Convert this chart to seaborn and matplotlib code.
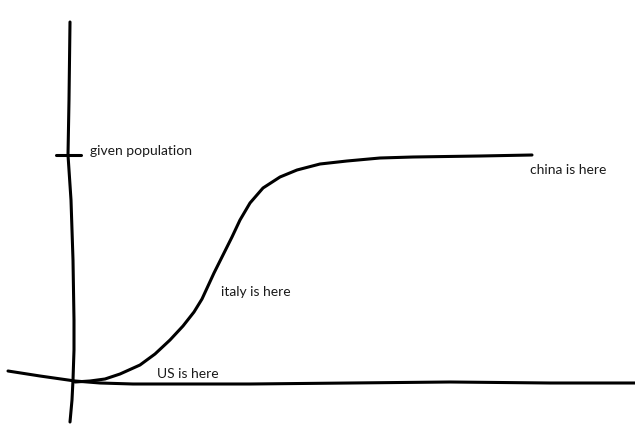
import seaborn as sns
import matplotlib.pyplot as plt

# hand-drawn sketch, values (x to the right, y upwards)
axis_x = [70, 69, 68, 71, 73, 74, 74, 73, 72, 70]
axis_y = [414, 336, 281, 236, 176, 116, 86, 56, 36, 14]

tick_x = [56, 81]
tick_y = [281, 281]

base_x = [8, 40, 75, 100, 133, 180, 250, 350, 450, 550, 635]
base_y = [65, 60, 55, 53, 52, 52, 52, 53, 54, 53, 53]

curve_x = [75, 90, 105, 120, 140, 155, 170, 183, 194, 202, 208, 214, 222, 232, 240,
           250, 263, 280, 297, 320, 347, 380, 413, 480, 532]
curve_y = [54, 55, 57, 62, 71, 82, 96, 110, 124, 137, 150, 163, 179, 199, 216,
           233, 248, 259, 266, 272, 275, 278, 279, 280, 281]

labels = ["given population", "china is here", "italy is here", "US is here"]
label_x = [90, 530, 221, 157]
label_y = [285, 266, 144, 62]

sns.set_style("white")
plt.rcParams['font.family'] = ['Lato', 'DejaVu Sans']

fig, ax = plt.subplots(figsize=(6.35, 4.36), dpi=100)
fig.subplots_adjust(left=0, right=1, bottom=0, top=1)

for xs, ys in [(axis_x, axis_y), (tick_x, tick_y), (base_x, base_y), (curve_x, curve_y)]:
    sns.lineplot(x=xs, y=ys, ax=ax, color="black", linewidth=2.2, sort=False,
                 estimator=None, solid_capstyle="round", solid_joinstyle="round")

for t, x, y in zip(labels, label_x, label_y):
    ax.text(x, y, t, fontsize=10, color="#1a1a1a", ha="left", va="center")

ax.set_xlim(0, 635)
ax.set_ylim(0, 436)
ax.set_axis_off()

plt.savefig("out.png", dpi=100)
